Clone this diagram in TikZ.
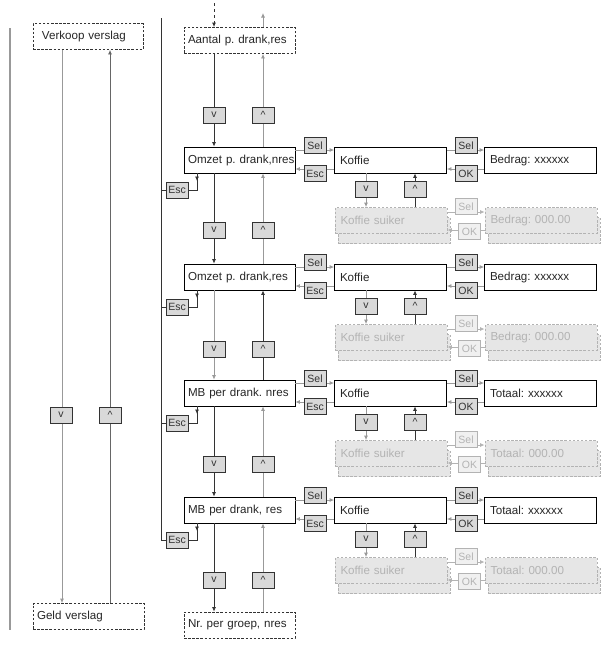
\documentclass[tikz,border=0pt]{standalone}
\usepackage{fontspec}
\setmainfont{Liberation Sans}
\usetikzlibrary{arrows.meta}
\definecolor{dk}{HTML}{333333}
\definecolor{md}{HTML}{999999}
\definecolor{mdk}{HTML}{666666}
\definecolor{lt}{HTML}{b3b3b3}
\definecolor{ltfill}{HTML}{e6e6e6}
\definecolor{keyfill}{HTML}{d9d9d9}
\tikzset{
  mbox/.style={draw=black, line width=0.8pt, fill=white, minimum height=26pt,
    text width=104pt, inner xsep=4pt, inner ysep=0pt, align=left,
    font=\fontsize{11.6}{13}\selectfont, text=black!85},
  dbox/.style={mbox, draw=dk, dash pattern=on 2.5pt off 1.6pt},
  gbox/.style={mbox, draw=lt, fill=ltfill, dash pattern=on 2.5pt off 1.6pt, text=lt},
  keybox/.style={draw=dk, fill=keyfill, line width=0.7pt, minimum width=22pt,
    minimum height=16pt, inner sep=0pt, font=\fontsize{10.5}{11}\selectfont, text=black!80},
  gkey/.style={keybox, draw=lt, fill=ltfill!60, text=lt},
  dl/.style={draw=dk, line width=0.8pt},
  gl/.style={draw=md, line width=0.8pt},
  ll/.style={draw=lt, line width=0.8pt},
  tip/.style={-{Latex[length=4.5pt,width=4pt]}},
}
\begin{document}
\frenchspacing
\begin{tikzpicture}[x=1pt,y=-1pt]
\useasboundingbox (0,0) rectangle (607,645);

% --- helper coordinates
\coordinate (bus) at (161,18);
\coordinate (xd) at (214,0);
\coordinate (xu) at (263,0);
\coordinate (kv) at (366,0);
\coordinate (ku) at (415,0);
\coordinate (l1) at (62,0);
\coordinate (l2) at (110,0);

% --- left-most line
\coordinate (edgeT) at (10,28);
\coordinate (edgeB) at (10,630);
\draw[gl, line width=1.1pt] (edgeT) -- (edgeB);

% --- left column
\node[dbox, text width=102pt] (vk) at (88,36.5) {\mbox{\hspace{5pt}Verkoop verslag}};
\node[dbox, text width=103pt] (gv) at (88.5,616.5) {\mbox{Geld verslag}};
\draw[gl,tip] (vk.south -| l1) -- (gv.north -| l1);
\draw[draw=mdk, line width=0.8pt,tip] (gv.north -| l2) -- (vk.south -| l2);
\node[keybox] at (61,415) {v};
\node[keybox] at (110,415) {\textasciicircum};

% --- top and bottom dashed boxes in main column
\node[dbox, text width=103pt] (aant) at (239.5,40.5) {\mbox{Aantal p. drank,res}};
\node[dbox, text width=103pt] (nr) at (239.5,625) {\mbox{Nr. per groep, nres}};
\coordinate (topd) at (214,3);
\coordinate (topu) at (263,13);
\draw[dl, dashed, tip] (topd) -- (aant.north -| topd);
\draw[gl, tip] (aant.north -| topu) -- (topu);

% --- rows
\foreach \i/\t/\mt/\rt/\gt in {
  1/147/{Omzet p. drank,nres}/{Bedrag: xxxxxx}/{Bedrag: 000.00},
  2/264/{Omzet p. drank,res}/{Bedrag: xxxxxx}/{Bedrag: 000.00},
  3/380/{MB per drank. nres}/{Totaal: xxxxxx}/{Totaal: 000.00},
  4/497/{MB per drank, res}/{Totaal: xxxxxx}/{Totaal: 000.00}}{
  \pgfmathsetmacro\c{\t+13}
  \node[mbox, text width=103pt] (m\i) at (239.5,\c) {\mbox{\mt}};
  \node[mbox] (k\i) at (390.5,\c) {\mbox{\hspace{1.5pt}Koffie}};
  \node[mbox] (b\i) at (540.5,\c) {\mbox{\hspace{1.5pt}\rt}};
  \coordinate (sa\i) at (0,\t+3);
  \coordinate (ea\i) at (0,\t+22);
  \draw[gl,tip] (m\i.east |- sa\i) -- (k\i.west |- sa\i);
  \draw[gl,tip] (k\i.west |- ea\i) -- (m\i.east |- ea\i);
  \draw[gl,tip] (k\i.east |- sa\i) -- (b\i.west |- sa\i);
  \draw[gl,tip] (b\i.west |- ea\i) -- (k\i.east |- ea\i);
  \node[keybox] (sl\i) at (315,\t-1.5) {Sel};
  \node[keybox] (es\i) at (315,\t+26.5) {Esc};
  \node[keybox] (sr\i) at (466,\t-1.5) {Sel};
  \node[keybox] (ok\i) at (466,\t+26.5) {OK};
  % sub row (grey)
  \node[gbox] (ksb\i) at (394,\t+83.5) {};
  \node[gbox] (bsb\i) at (544,\t+83.5) {};
  \node[gbox] (ks\i) at (391,\t+73.5) {\mbox{\hspace{1.5pt}Koffie suiker}};
  \node[gbox] (bs\i) at (541,\t+73.5) {\mbox{\hspace{1.5pt}\gt}};
  \draw[gl,tip] (k\i.south -| kv) -- (ks\i.north -| kv);
  \draw[dl,tip] (ks\i.north -| ku) -- (k\i.south -| ku);
  \node[keybox] at (366,\t+42) {v};
  \node[keybox] at (415,\t+42) {\textasciicircum};
  \coordinate (gs\i) at (0,\t+65);
  \coordinate (go\i) at (0,\t+83);
  \draw[ll,tip] (ks\i.east |- gs\i) -- (bs\i.west |- gs\i);
  \draw[ll,tip] (bs\i.west |- go\i) -- (ks\i.east |- go\i);
  \node[gkey] at (466,\t+59.5) {Sel};
  \node[gkey] at (469.5,\t+84.5) {OK};
  % left Esc
  \coordinate (lc\i) at (197,\t+43);
  \coordinate (lh\i) at (197,\t+34);
  \node[keybox] (le\i) at (177,\t+43) {Esc};
  \draw[dl] (bus |- le\i) -- (le\i.west);
  \draw[dl] (le\i.east) -| (m\i.south -| lc\i);
  \draw[dl,tip] (m\i.south -| lc\i) -- (lh\i);
}

% --- bus line
\draw[dl, line width=0.9pt] (bus) -- (bus |- le4);

% --- main column verticals
\draw[dl,tip] (aant.south -| xd) -- (m1.north -| xd);
\draw[gl,tip] (m1.north -| xu) -- (aant.south -| xu);
\draw[dl,tip] (m1.south -| xd) -- (m2.north -| xd);
\draw[gl,tip] (m2.north -| xu) -- (m1.south -| xu);
\draw[gl,tip] (m2.south -| xd) -- (m3.north -| xd);
\draw[dl,tip] (m3.north -| xu) -- (m2.south -| xu);
\draw[dl,tip] (m3.south -| xd) -- (m4.north -| xd);
\draw[gl,tip] (m4.north -| xu) -- (m3.south -| xu);
\draw[dl,tip] (m4.south -| xd) -- (nr.north -| xd);
\draw[gl,tip] (nr.north -| xu) -- (m4.south -| xu);

\foreach \y in {115,230,349,464,580}{
  \node[keybox] at (214,\y) {v};
  \node[keybox] at (263,\y) {\textasciicircum};
}
\end{tikzpicture}
\end{document}
